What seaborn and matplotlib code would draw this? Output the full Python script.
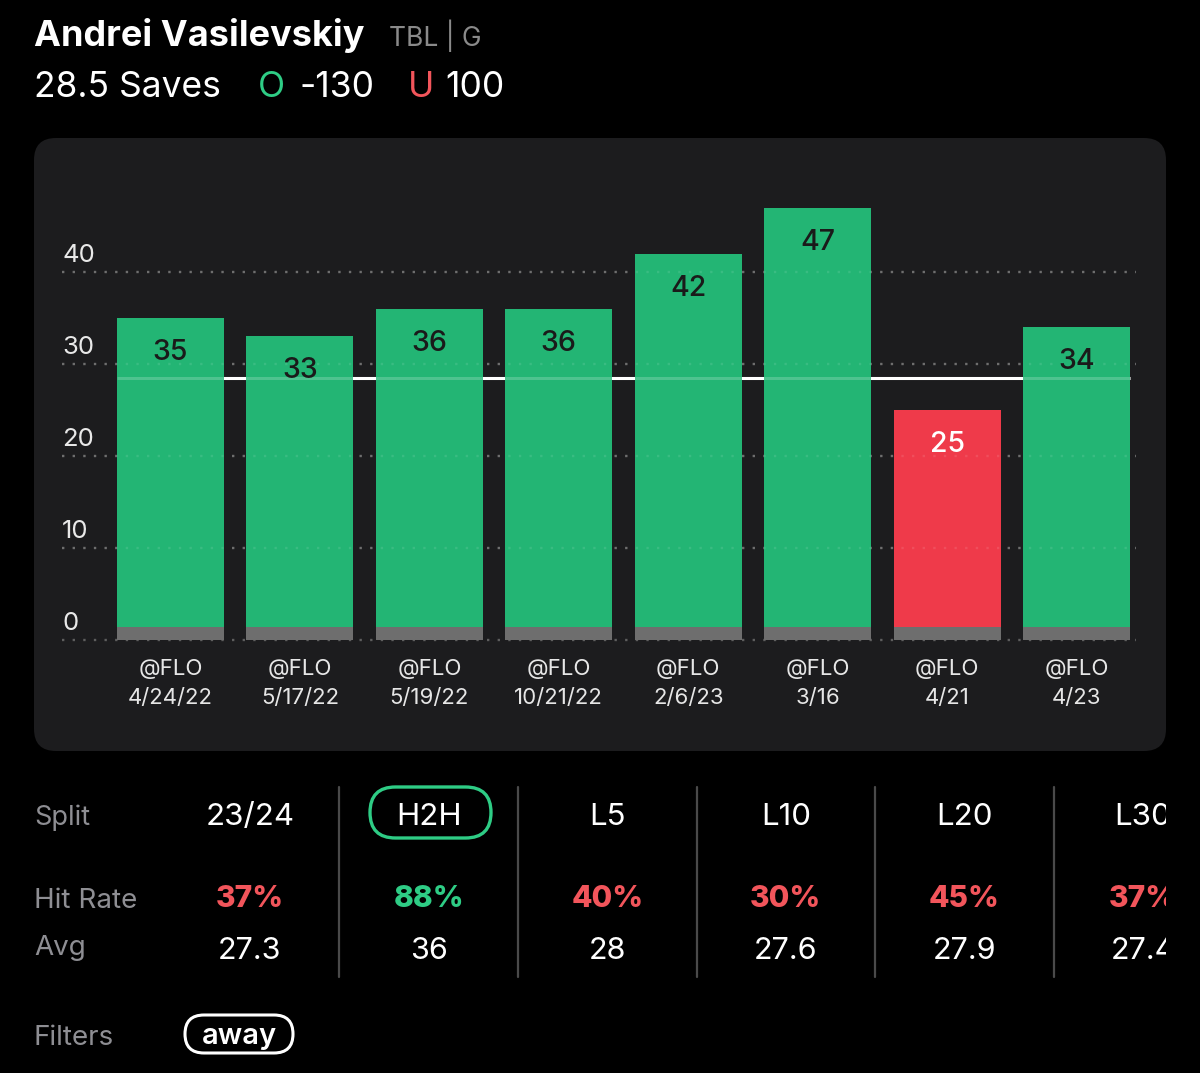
import numpy as np
import pandas as pd
import matplotlib
matplotlib.use("Agg")
import matplotlib.pyplot as plt
import seaborn as sns
from matplotlib.patches import FancyBboxPatch
from matplotlib.transforms import offset_copy, blended_transform_factory, Bbox, TransformedBbox

# ---------------- data ----------------
player = "Andrei Vasilevskiy"
team_pos = "TBL | G"
prop_label = "28.5 Saves"
over_odds = "-130"
under_odds = "100"
line_value = 28.5

opponents = ["@FLO", "@FLO", "@FLO", "@FLO", "@FLO", "@FLO", "@FLO", "@FLO"]
dates = ["4/24/22", "5/17/22", "5/19/22", "10/21/22", "2/6/23", "3/16", "4/21", "4/23"]
saves = [35, 33, 36, 36, 42, 47, 25, 34]
y_ticks = [0, 10, 20, 30, 40]

splits = ["23/24", "H2H", "L5", "L10", "L20", "L30"]
hit_rates = [37, 88, 40, 30, 45, 37]
averages = [27.3, 36, 28, 27.6, 27.9, 27.4]
selected_split = "H2H"
filters = ["away"]

# ---------------- style ----------------
BG = "#000000"
PANEL = "#1c1c1e"
GREEN = "#23b574"
RED = "#ef3a4a"
TXT_GREEN = "#2ecc85"
TXT_RED = "#f2555b"
GRAY_TXT = "#8e8e93"
BASE_GRAY = "#6e6e6e"
BASE = 1.4
BAR_W = 0.827

sns.set_theme(style="dark")
plt.rcParams["font.family"] = ["Inter", "DejaVu Sans"]

W, H = 1200, 1073
fig = plt.figure(figsize=(W / 100, H / 100), dpi=100, facecolor=BG)

# background / overlay axes in pixel coordinates
bg = fig.add_axes([0, 0, 1, 1], zorder=0)
bg.set_xlim(0, W)
bg.set_ylim(H, 0)
bg.axis("off")
bg.add_patch(FancyBboxPatch((34, 138), 1132, 613,
                            boxstyle="round,pad=0,rounding_size=22",
                            fc=PANEL, ec="none"))

# ---------------- chart ----------------
px_per_unit = 9.2
ax_left, ax_right, ax_top, ax_bot = 62, 1136, 138, 650
ax = fig.add_axes([ax_left / W, 1 - ax_bot / H, (ax_right - ax_left) / W,
                   (ax_bot - ax_top) / H], zorder=1)
ax.patch.set_alpha(0)

df = pd.DataFrame({
    "game": [f"{o} {d}" for o, d in zip(opponents, dates)],
    "saves": saves,
})
df["result"] = np.where(df["saves"] > line_value, "over", "under")

sns.barplot(data=df, x="game", y="saves", hue="result",
            palette={"over": GREEN, "under": RED}, dodge=False,
            width=BAR_W, saturation=1, legend=False, ax=ax,
            zorder=2, linewidth=0)
sns.barplot(x=df["game"], y=[BASE] * len(df), color=BASE_GRAY,
            width=BAR_W, saturation=1, ax=ax, zorder=3, linewidth=0)

n = len(df)
# threshold line: solid behind the bars, faint trace across them
ax.hlines(line_value, -BAR_W / 2, n - 1 + BAR_W / 2, color="white",
          linewidth=2.2, zorder=1.5)
ax.hlines(line_value, -BAR_W / 2, n - 1 + BAR_W / 2, color="white",
          linewidth=2.2, alpha=0.2, zorder=2.5)

ax.set_ylim(-(ax_bot - 640) / px_per_unit, (640 - ax_top) / px_per_unit)
spacing = 129.43
ax.set_xlim((ax_left - 170.5) / spacing, (ax_right - 170.5) / spacing)

ax.set_yticks(y_ticks)
ax.yaxis.grid(True, color="#5e5e5e", linestyle=(0, (1, 3.5)), linewidth=1.7, zorder=0.5)
ax.xaxis.grid(False)
ax.set_axisbelow(True)
# faint dotted trace of the grid on top of the bars
ax.hlines(y_ticks[1:], ax.get_xlim()[0], ax.get_xlim()[1], color="white",
          linestyle=(0, (1, 3.5)), linewidth=1.7, alpha=0.1, zorder=2.6)
ax.tick_params(left=False, bottom=False, labelleft=False, labelbottom=False)
for s in ax.spines.values():
    s.set_visible(False)
ax.set_xlabel("")
ax.set_ylabel("")

ytr = offset_copy(blended_transform_factory(ax.transAxes, ax.transData), fig=fig, y=10, units="dots")
for v in y_ticks:
    ax.text(0, v, str(v), transform=ytr, color="#e8e8e8", fontsize=18.5,
            ha="left", va="baseline")

for i, (v, r) in enumerate(zip(df["saves"], df["result"])):
    ax.text(i, v, str(v),
            transform=offset_copy(ax.transData, fig=fig, y=-42, units="dots"),
            ha="center", va="baseline", fontsize=20.5, fontweight="medium",
            color="#1a1a1a" if r == "over" else "white", zorder=5)

for i, (o, d) in enumerate(zip(opponents, dates)):
    ax.text(i, 0, o, transform=offset_copy(ax.transData, fig=fig, y=-35, units="dots"),
            ha="center", va="baseline", fontsize=16, color="#e6e6e6", clip_on=False)
    ax.text(i, 0, d, transform=offset_copy(ax.transData, fig=fig, y=-64, units="dots"),
            ha="center", va="baseline", fontsize=16, color="#e6e6e6", clip_on=False)

# ---------------- header ----------------
bg.text(34, 46, player, color="white", fontsize=26, fontweight="bold", va="baseline")
bg.text(389, 46, team_pos, color="#8a8a8a", fontsize=19, va="baseline")
bg.text(34, 97, prop_label, color="white", fontsize=25.5, va="baseline")
bg.text(258, 97, "O", color=TXT_GREEN, fontsize=25.5, va="baseline")
bg.text(299, 97, over_odds, color="white", fontsize=25.5, va="baseline")
bg.text(408, 97, "U", color=TXT_RED, fontsize=25.5, va="baseline")
bg.text(445, 97, under_odds, color="white", fontsize=25.5, va="baseline")

# ---------------- splits table ----------------
clip = TransformedBbox(Bbox([[0, 0], [1166, H]]), bg.transData)
col_x = [250 + 178.6 * k for k in range(len(splits))]
bg.text(34, 825, "Split", color=GRAY_TXT, fontsize=19.5, va="baseline")
bg.text(34, 908, "Hit Rate", color=GRAY_TXT, fontsize=20, va="baseline")
bg.text(34, 955, "Avg", color=GRAY_TXT, fontsize=20, va="baseline")
bg.text(34, 1045, "Filters", color=GRAY_TXT, fontsize=20, va="baseline")

for k, (sp, hr, av) in enumerate(zip(splits, hit_rates, averages)):
    x = col_x[k]
    ts = [
        bg.text(x, 825, sp, color="white", fontsize=22.5, ha="center", va="baseline"),
        bg.text(x, 907, f"{hr}%", color=TXT_GREEN if hr >= 50 else TXT_RED,
                fontsize=21.5, fontweight="heavy", ha="center", va="baseline"),
        bg.text(x, 959, f"{av:g}", color="white", fontsize=22, ha="center", va="baseline"),
    ]
    for t in ts:
        t.set_clip_box(clip)
        t.set_clip_on(True)
    if sp == selected_split:
        bg.add_patch(FancyBboxPatch((370, 787), 121, 51,
                                    boxstyle="round,pad=0,rounding_size=25.5",
                                    fc="none", ec=TXT_GREEN, lw=2.4))
    if k > 0:
        sep = (col_x[k - 1] + x) / 2
        bg.plot([sep, sep], [787, 977], color="#4a4a4a", lw=1.6)

for f in filters:
    bg.add_patch(FancyBboxPatch((185, 1015), 108, 38,
                                boxstyle="round,pad=0,rounding_size=19",
                                fc="none", ec="white", lw=2.2))
    bg.text(239, 1034, f, color="white", fontsize=21, fontweight="semibold",
            ha="center", va="center_baseline")

fig.savefig("out.png", dpi=100, facecolor=BG)
